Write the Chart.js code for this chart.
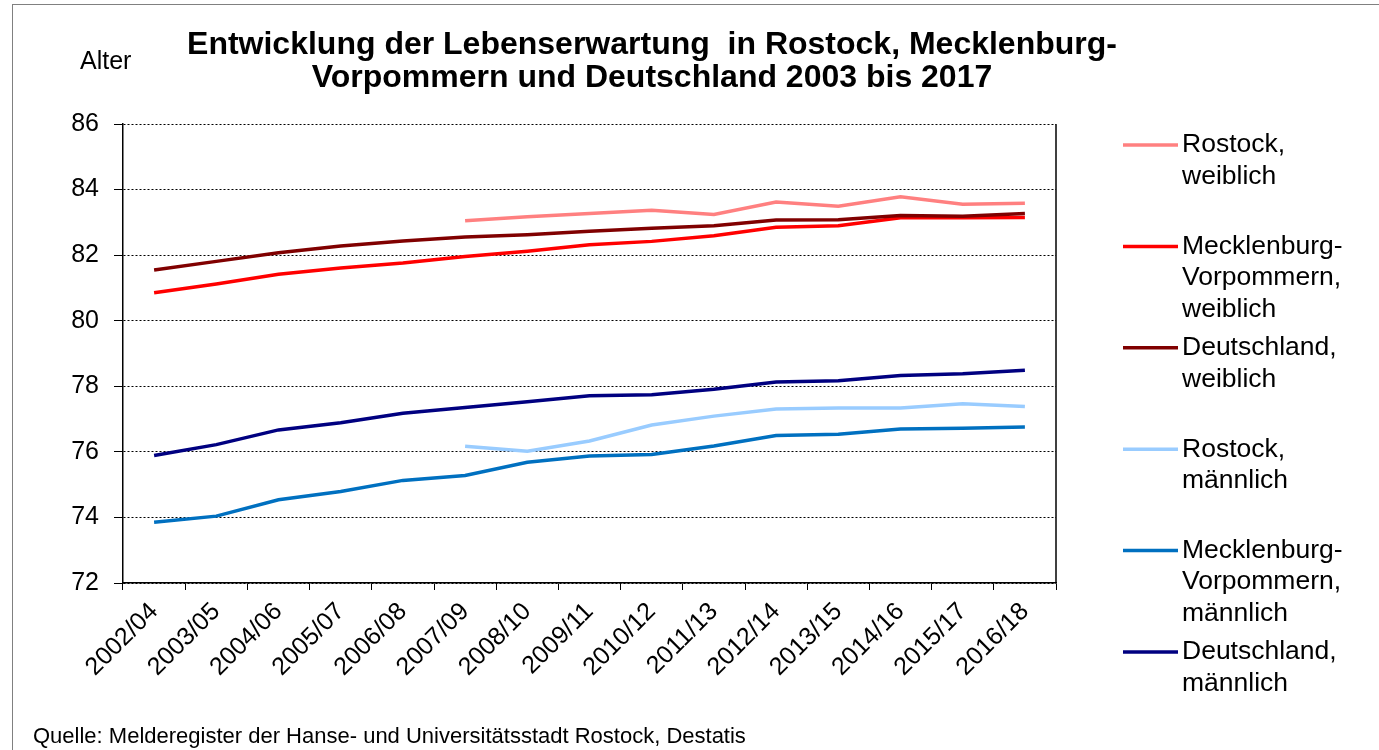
<!DOCTYPE html>
<html lang="de">
<head>
<meta charset="utf-8">
<title>Lebenserwartung Rostock</title>
<script src="https://cdn.jsdelivr.net/npm/chart.js@4.4.1/dist/chart.umd.min.js"></script>
<style>
  html, body { margin: 0; padding: 0; background: #fff; }
  #chart { display: block; }
</style>
</head>
<body>
<canvas id="chart" width="1379" height="750"></canvas>
<script>
// Daten

var periods = ["2002/04", "2003/05", "2004/06", "2005/07", "2006/08", "2007/09", "2008/10",
  "2009/11", "2010/12", "2011/13", "2012/14", "2013/15", "2014/16", "2015/17", "2016/18"];

var yTicks = [72, 74, 76, 78, 80, 82, 84, 86];

var rostockW = [null, null, null, null, null, 83.05, 83.17, 83.27, 83.37, 83.24, 83.62, 83.49, 83.78, 83.55, 83.58];
var mvW      = [80.85, 81.12, 81.42, 81.61, 81.76, 81.96, 82.12, 82.32, 82.42, 82.59, 82.85, 82.90, 83.14, 83.14, 83.15];
var deW      = [81.55, 81.81, 82.07, 82.28, 82.43, 82.55, 82.62, 82.73, 82.82, 82.90, 83.07, 83.08, 83.21, 83.19, 83.27];
var rostockM = [null, null, null, null, null, 76.17, 76.02, 76.33, 76.82, 77.09, 77.31, 77.34, 77.34, 77.47, 77.38];
var mvM      = [73.85, 74.04, 74.54, 74.79, 75.13, 75.28, 75.68, 75.87, 75.92, 76.18, 76.50, 76.54, 76.70, 76.72, 76.76];
var deM      = [75.89, 76.22, 76.67, 76.89, 77.18, 77.35, 77.53, 77.71, 77.74, 77.91, 78.13, 78.17, 78.33, 78.38, 78.49];

var seriesNames = [
  ["Rostock,", "weiblich"],
  ["Mecklenburg-", "Vorpommern,", "weiblich"],
  ["Deutschland,", "weiblich"],
  ["Rostock,", "männlich"],
  ["Mecklenburg-", "Vorpommern,", "männlich"],
  ["Deutschland,", "männlich"]
];
var seriesData = [rostockW, mvW, deW, rostockM, mvM, deM];
var seriesColors = ["#FF8080", "#FF0000", "#800000", "#99CCFF", "#0070C0", "#000080"];

var titleLines = ["Entwicklung der Lebenserwartung  in Rostock, Mecklenburg-",
  "Vorpommern und Deutschland 2003 bis 2017"];
var yTitle = "Alter";
var sourceText = "Quelle: Melderegister der Hanse- und Universitätsstadt Rostock, Destatis";

var FONT = '"Liberation Sans", Arial, Helvetica, sans-serif';

// Datasets

var datasets = seriesData.map(function (d, i) {
  return {
    label: seriesNames[i].join(" "),
    data: d,
    borderColor: seriesColors[i],
    backgroundColor: seriesColors[i],
    borderWidth: 3.5,
    pointRadius: 0,
    pointHoverRadius: 0,
    tension: 0,
    fill: false,
    order: seriesData.length - i
  };
});

// Titel, Legende, Quelle, Rahmen

var decor = {
  id: "decor",
  beforeDraw: function (chart) {
    var ctx = chart.ctx;
    ctx.save();
    ctx.fillStyle = "#fff";
    ctx.fillRect(0, 0, chart.width, chart.height);
    ctx.strokeStyle = "#808080";
    ctx.lineWidth = 1;
    ctx.strokeRect(12.5, 4.5, chart.width + 20, chart.height + 20);
    ctx.restore();
  },
  afterDraw: function (chart) {
    var ctx = chart.ctx, a = chart.chartArea;
    ctx.save();

    // rechter Rand der Zeichenfläche
    ctx.strokeStyle = "#000";
    ctx.lineWidth = 1.5;
    ctx.beginPath();
    ctx.moveTo(a.right, a.top);
    ctx.lineTo(a.right, a.bottom);
    ctx.stroke();

    ctx.fillStyle = "#000";
    ctx.textBaseline = "middle";

    // Titel
    ctx.font = "bold 32px " + FONT;
    ctx.textAlign = "center";
    ctx.fillText(titleLines[0], 652, 45);
    ctx.fillText(titleLines[1], 652, 78);

    // Achsentitel
    ctx.font = "25px " + FONT;
    ctx.textAlign = "left";
    ctx.fillText(yTitle, 80, 62);

    // Legende
    ctx.font = "26.5px " + FONT;
    for (var i = 0; i < seriesNames.length; i++) {
      var y0 = 145 + i * 101.4;
      ctx.strokeStyle = seriesColors[i];
      ctx.lineWidth = 3.5;
      ctx.beginPath();
      ctx.moveTo(1123, y0);
      ctx.lineTo(1178, y0);
      ctx.stroke();
      for (var j = 0; j < seriesNames[i].length; j++) {
        ctx.fillText(seriesNames[i][j], 1182, y0 + j * 31.5);
      }
    }

    // Quelle
    ctx.font = "22px " + FONT;
    ctx.fillText(sourceText, 33, 737);

    ctx.restore();
  }
};

new Chart(document.getElementById("chart"), {
  type: "line",
  data: {
    labels: periods,
    datasets: datasets
  },
  options: {
    responsive: false,
    animation: false,
    layout: {
      padding: { top: 124, right: 323, left: 0, bottom: 0 }
    },
    plugins: {
      legend: { display: false },
      title: { display: false },
      tooltip: { enabled: false }
    },
    scales: {
      x: {
        offset: true,
        grid: {
          offset: true,
          drawOnChartArea: false,
          drawTicks: true,
          tickLength: 7,
          color: "#000",
          lineWidth: 1
        },
        border: { display: true, color: "#000", width: 1.5 },
        ticks: {
          font: { family: FONT, size: 25 },
          color: "#000",
          minRotation: 45,
          maxRotation: 45,
          autoSkip: false,
          padding: 7
        },
        afterFit: function (s) { s.height = 167; }
      },
      y: {
        min: 72,
        max: 86,
        afterBuildTicks: function (axis) {
          axis.ticks = yTicks.map(function (v) { return { value: v }; });
        },
        grid: {
          color: "#000",
          lineWidth: 1,
          drawTicks: true,
          tickLength: 9,
          tickColor: "#000",
          tickBorderDash: []
        },
        border: { display: true, color: "#000", width: 1.5, dash: [2, 2] },
        ticks: {
          font: { family: FONT, size: 25 },
          color: "#000",
          padding: 15
        },
        afterFit: function (s) { s.width = 123; }
      }
    }
  },
  plugins: [decor]
});
</script>
</body>
</html>
